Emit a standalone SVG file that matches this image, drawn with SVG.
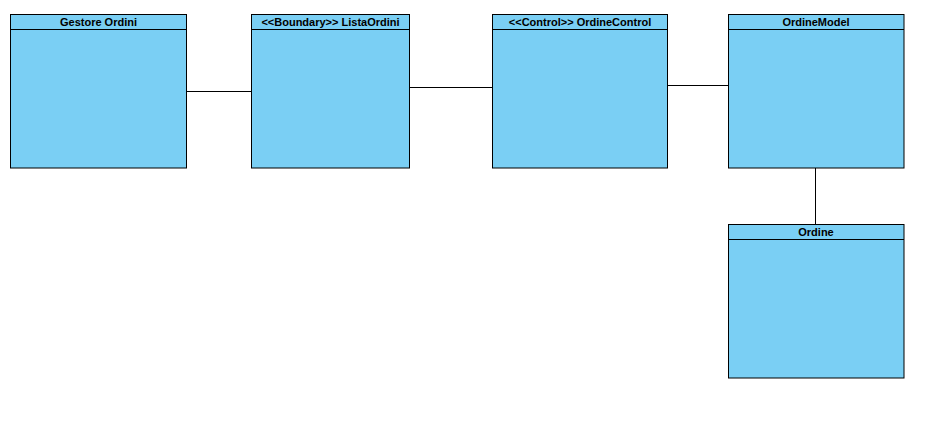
<svg xmlns="http://www.w3.org/2000/svg" width="947" height="422" viewBox="0 0 947 422">
<style>
.box{fill:#7acff4;stroke:#000;stroke-width:1}
.t{font-family:"Liberation Sans",Arial,sans-serif;font-size:11px;font-weight:bold;fill:#000;text-anchor:middle}
.c{stroke:#000;stroke-width:1;fill:none}
</style>
<rect width="947" height="422" fill="#fff"/>
<g id="connectors">
<line class="c" x1="187" y1="91.5" x2="251" y2="91.5"/>
<line class="c" x1="410" y1="87.5" x2="492" y2="87.5"/>
<line class="c" x1="668" y1="85.5" x2="728" y2="85.5"/>
<line class="c" x1="815.5" y1="168" x2="815.5" y2="224"/>
</g>
<g id="gestore">
<rect class="box" x="10.5" y="14.5" width="176" height="153.5"/>
<line class="c" x1="10.5" y1="29.5" x2="186.5" y2="29.5"/>
<text class="t" x="98.5" y="26">Gestore Ordini</text>
</g>
<g id="listaordini">
<rect class="box" x="251.5" y="14.5" width="158" height="153.5"/>
<line class="c" x1="251.5" y1="29.5" x2="409.5" y2="29.5"/>
<text class="t" x="330.5" y="26">&lt;&lt;Boundary&gt;&gt; ListaOrdini</text>
</g>
<g id="ordinecontrol">
<rect class="box" x="492.5" y="14.5" width="175" height="153.5"/>
<line class="c" x1="492.5" y1="29.5" x2="667.5" y2="29.5"/>
<text class="t" x="580" y="26">&lt;&lt;Control&gt;&gt; OrdineControl</text>
</g>
<g id="ordinemodel">
<rect class="box" x="728.5" y="14.5" width="175.5" height="153.5"/>
<line class="c" x1="728.5" y1="29.5" x2="904" y2="29.5"/>
<text class="t" x="816" y="26">OrdineModel</text>
</g>
<g id="ordine">
<rect class="box" x="728.5" y="224.5" width="175.5" height="153.5"/>
<line class="c" x1="728.5" y1="239.5" x2="904" y2="239.5"/>
<text class="t" x="816" y="236">Ordine</text>
</g>
</svg>
